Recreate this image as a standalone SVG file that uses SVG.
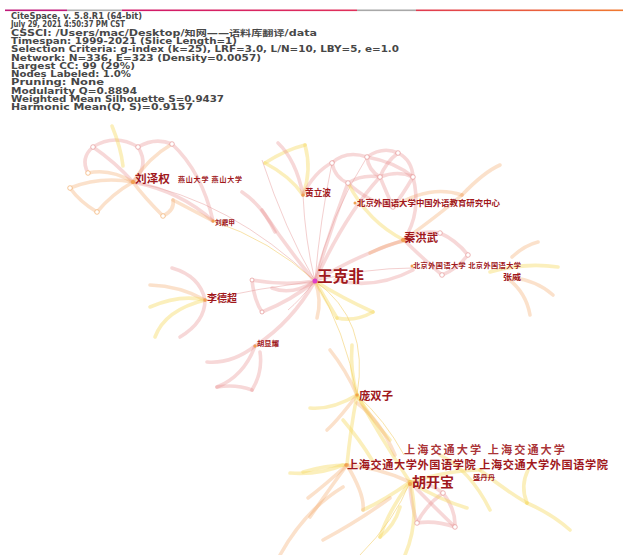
<svg xmlns="http://www.w3.org/2000/svg" width="623" height="555" viewBox="0 0 623 555">
<defs>
<linearGradient id="bar" x1="0" x2="1" y1="0" y2="0">
<stop offset="0" stop-color="#c01a7a"/>
<stop offset="0.1" stop-color="#c01a7a"/>
<stop offset="0.1" stop-color="#b0b0b0"/>
<stop offset="0.19" stop-color="#b0b0b0"/>
<stop offset="0.19" stop-color="#d0186a"/>
<stop offset="0.57" stop-color="#e0305a"/>
<stop offset="0.57" stop-color="#a8a8a8"/>
<stop offset="0.665" stop-color="#a8a8a8"/>
<stop offset="0.665" stop-color="#e03a50"/>
<stop offset="1" stop-color="#f07a30"/>
</linearGradient>
</defs>
<style>
.hd{font-family:"DejaVu Sans","Noto Sans CJK SC",sans-serif;font-size:8px;font-weight:bold;fill:#474747}
.lb{font-family:"Noto Sans CJK SC","Noto Sans CJK JP",sans-serif;font-weight:bold;fill:#a0181c}
.p{fill:none;stroke:#e89090;stroke-opacity:.35;stroke-width:3.6;stroke-linecap:round}
.o{fill:none;stroke:#f4aa6a;stroke-opacity:.35;stroke-width:3.6;stroke-linecap:round}
.y{fill:none;stroke:#f6d860;stroke-opacity:.42;stroke-width:3.6;stroke-linecap:round}
.pt{fill:none;stroke:#e8a0a0;stroke-opacity:.5;stroke-width:1}
.yt{fill:none;stroke:#f3d070;stroke-opacity:.6;stroke-width:1}
.c{fill:#fff;stroke:#e69a9a;stroke-opacity:.7;stroke-width:1}
.co{fill:#fff;stroke:#f2b070;stroke-opacity:.7;stroke-width:1}
.dot{fill:#f0a050}
</style>
<rect width="623" height="555" fill="#fff"/>
<rect x="5" y="9.5" width="618" height="1.6" fill="url(#bar)"/>
<g id="header">
<text class="hd" x="11" y="19" textLength="131" lengthAdjust="spacingAndGlyphs">CiteSpace, v. 5.8.R1 (64-bit)</text>
<text class="hd" x="11" y="27.3" textLength="114" lengthAdjust="spacingAndGlyphs">July 29, 2021 4:50:37 PM CST</text>
<text class="hd" x="11" y="35.6" textLength="306" lengthAdjust="spacingAndGlyphs">CSSCI: /Users/mac/Desktop/知网——语料库翻译/data</text>
<text class="hd" x="11" y="43.9" textLength="226" lengthAdjust="spacingAndGlyphs">Timespan: 1999-2021 (Slice Length=1)</text>
<text class="hd" x="11" y="52.2" textLength="388" lengthAdjust="spacingAndGlyphs">Selection Criteria: g-index (k=25), LRF=3.0, L/N=10, LBY=5, e=1.0</text>
<text class="hd" x="11" y="60.5" textLength="250" lengthAdjust="spacingAndGlyphs">Network: N=336, E=323 (Density=0.0057)</text>
<text class="hd" x="11" y="68.8" textLength="124" lengthAdjust="spacingAndGlyphs">Largest CC: 99 (29%)</text>
<text class="hd" x="11" y="77.1" textLength="120" lengthAdjust="spacingAndGlyphs">Nodes Labeled: 1.0%</text>
<text class="hd" x="11" y="85.4" textLength="93" lengthAdjust="spacingAndGlyphs">Pruning: None</text>
<text class="hd" x="11" y="93.7" textLength="126" lengthAdjust="spacingAndGlyphs">Modularity Q=0.8894</text>
<text class="hd" x="11" y="102" textLength="213" lengthAdjust="spacingAndGlyphs">Weighted Mean Silhouette S=0.9437</text>
<text class="hd" x="11" y="110.3" textLength="182" lengthAdjust="spacingAndGlyphs">Harmonic Mean(Q, S)=0.9157</text>
</g>
<g id="connectors">
<path class="p" d="M93,147 Q115,162 133,182"/>
<path class="p" d="M93,147 Q115,133 138,147"/>
<path class="p" d="M138,147 Q150,166 133,182"/>
<path class="p" d="M138,147 Q155,137 172,144"/>
<path class="o" d="M172,144 Q148,158 133,182"/>
<path class="o" d="M88,173 Q110,168 133,182"/>
<path class="o" d="M70,188 Q100,176 133,182"/>
<path class="o" d="M70,188 Q80,202 97,212"/>
<path class="o" d="M97,212 Q112,194 133,182"/>
<path class="o" d="M163,216 Q143,196 133,182"/>
<path class="o" d="M163,216 Q175,210 173,200"/>
<path class="p" d="M133,182 Q182,192 213,221"/>
<path class="o" d="M173,200 Q196,212 213,221"/>
<path class="p" d="M172,144 Q202,172 213,221"/>
<path class="y" d="M112,126 Q121,148 123,166"/>
<path class="p" d="M88,173 Q80,158 93,147"/>
<path class="pt" d="M133,182 Q230,200 315,281"/>
<path class="yt" d="M213,221 Q270,240 315,281"/>
<path class="p" d="M242,192 Q262,205 275,232"/>
<path class="y" d="M265,163 Q285,150 305,145"/>
<path class="y" d="M305,145 Q312,170 303,195"/>
<path class="y" d="M265,163 Q290,176 303,195"/>
<path class="p" d="M278,143 Q296,160 303,195"/>
<path class="p" d="M333,162 Q314,172 303,195"/>
<path class="pt" d="M303,195 Q305,240 315,281"/>
<path class="pt" d="M262,160 Q285,230 315,281"/>
<path class="p" d="M262,210 Q285,245 312,278"/>
<path class="p" d="M367,157 Q383,146 398,153"/>
<path class="p" d="M398,153 Q412,160 413,177"/>
<path class="p" d="M367,157 Q368,170 380,177"/>
<path class="p" d="M380,177 Q398,170 413,177"/>
<path class="p" d="M367,157 Q395,162 413,177"/>
<path class="p" d="M398,153 Q386,162 380,177"/>
<path class="p" d="M380,177 Q388,196 393,207"/>
<path class="p" d="M413,177 Q402,196 393,207"/>
<path class="p" d="M332,163 Q346,150 367,157"/>
<path class="p" d="M332,163 Q335,178 348,183"/>
<path class="p" d="M348,183 Q362,174 380,177"/>
<path class="p" d="M348,183 Q368,202 393,207"/>
<path class="p" d="M315,281 Q330,230 348,183"/>
<path class="p" d="M315,281 Q345,215 380,177"/>
<path class="pt" d="M315,281 Q330,215 367,157"/>
<path class="pt" d="M315,281 Q320,220 332,163"/>
<path class="o" d="M393,207 Q430,184 462,195"/>
<path class="o" d="M462,195 Q484,172 500,165"/>
<path class="o" d="M462,195 Q440,214 404,240"/>
<path class="y" d="M348,183 Q368,222 404,240"/>
<path class="p" d="M413,177 Q422,212 404,240"/>
<path class="p" d="M404,240 Q421,229 440,233"/>
<path class="p" d="M440,233 Q456,240 468,255"/>
<path class="p" d="M468,255 Q456,270 442,275"/>
<path class="p" d="M442,275 Q420,256 404,240"/>
<path class="p" d="M404,240 Q360,254 315,281"/>
<path class="p" d="M335,280 Q375,290 413,270"/>
<path class="o" d="M370,253 Q388,244 404,241"/>
<path class="pt" d="M315,281 Q365,268 413,268"/>
<path class="o" d="M512,257 Q525,245 538,242"/>
<path class="y" d="M490,272 Q525,262 558,267"/>
<path class="o" d="M507,278 Q526,292 530,315"/>
<path class="o" d="M513,278 Q536,280 553,295"/>
<path class="y" d="M315,281 Q342,298 373,312"/>
<path class="y" d="M373,312 Q355,322 337,318"/>
<path class="y" d="M315,281 Q326,300 337,318"/>
<path class="p" d="M315,281 Q285,286 252,280"/>
<path class="p" d="M252,280 Q254,300 262,312"/>
<path class="p" d="M262,312 Q292,300 315,281"/>
<path class="p" d="M272,288 Q292,296 315,281"/>
<path class="pt" d="M315,281 Q300,300 288,310"/>
<path class="pt" d="M315,281 Q260,288 205,300"/>
<path class="o" d="M315,281 Q322,300 317,318"/>
<path class="o" d="M150,285 Q180,286 205,300"/>
<path class="y" d="M150,307 Q180,294 205,300"/>
<path class="y" d="M155,337 Q165,310 205,300"/>
<path class="p" d="M172,268 Q200,276 205,300"/>
<path class="p" d="M180,337 Q205,322 205,300"/>
<path class="p" d="M315,281 Q292,322 255,346"/>
<path class="p" d="M255,346 Q232,364 207,362"/>
<path class="p" d="M255,346 Q244,376 217,387"/>
<path class="p" d="M260,352 Q263,372 252,390"/>
<path class="p" d="M217,387 Q236,384 252,390"/>
<path class="yt" d="M315,281 Q345,330 357,395"/>
<path class="yt" d="M315,281 Q370,320 357,395"/>
<path class="o" d="M330,350 Q346,370 357,395"/>
<path class="y" d="M352,345 Q350,370 357,395"/>
<path class="y" d="M357,395 Q332,410 310,408"/>
<path class="o" d="M357,395 Q338,420 327,430"/>
<path class="y" d="M357,395 Q372,420 390,440"/>
<path class="y" d="M357,395 Q382,440 410,482"/>
<path class="y" d="M357,395 Q350,432 347,465"/>
<path class="yt" d="M357,395 Q385,420 404,455"/>
<path class="y" d="M343,420 Q360,440 372,460"/>
<path class="o" d="M357,403 Q380,420 395,455"/>
<path class="p" d="M410,482 Q426,480 443,493"/>
<path class="p" d="M443,493 Q456,510 455,527"/>
<path class="p" d="M455,527 Q435,520 417,523"/>
<path class="p" d="M417,523 Q410,500 410,482"/>
<path class="p" d="M410,482 Q432,505 455,527"/>
<path class="p" d="M443,493 Q426,505 417,523"/>
<path class="y" d="M410,482 Q388,512 380,537"/>
<path class="y" d="M410,482 Q385,500 363,510"/>
<path class="y" d="M410,482 Q440,500 467,508"/>
<path class="y" d="M410,482 Q420,520 405,555"/>
<path class="yt" d="M410,482 Q395,520 360,555"/>
<path class="o" d="M347,465 Q380,468 410,482"/>
<path class="y" d="M303,472 Q326,465 347,465"/>
<path class="o" d="M310,517 Q330,488 347,465"/>
<path class="o" d="M347,465 Q325,485 308,498"/>
<path class="o" d="M280,555 Q305,510 343,487"/>
<path class="y" d="M290,473 Q320,475 343,465"/>
<path class="o" d="M323,540 Q360,520 390,498"/>
<path class="y" d="M380,537 Q395,525 400,507"/>
<path class="y" d="M480,470 Q505,490 527,503"/>
<path class="y" d="M527,503 Q520,486 528,470"/>
<path class="y" d="M527,503 Q552,514 570,530"/>
<path class="y" d="M410,482 Q450,470 480,470"/>
<path class="o" d="M347,465 Q365,495 363,510"/>
<path class="y" d="M440,455 Q470,470 490,510"/>
</g>
<g id="circles">
<circle class="c" cx="93" cy="147" r="2.3"/>
<circle class="c" cx="138" cy="147" r="2.3"/>
<circle class="c" cx="172" cy="144" r="2.3"/>
<circle class="co" cx="88" cy="173" r="2.3"/>
<circle class="co" cx="70" cy="188" r="2.3"/>
<circle class="co" cx="97" cy="212" r="2.3"/>
<circle class="co" cx="163" cy="216" r="2.3"/>
<circle class="c" cx="367" cy="157" r="2.3"/>
<circle class="c" cx="398" cy="153" r="2.3"/>
<circle class="c" cx="413" cy="177" r="2.3"/>
<circle class="c" cx="380" cy="177" r="2.3"/>
<circle class="c" cx="393" cy="207" r="2.3"/>
<circle class="c" cx="332" cy="163" r="2.3"/>
<circle class="c" cx="348" cy="183" r="2.3"/>
<circle class="c" cx="440" cy="233" r="2.3"/>
<circle class="c" cx="468" cy="255" r="2.3"/>
<circle class="c" cx="442" cy="275" r="2.3"/>
<circle class="c" cx="443" cy="493" r="2.3"/>
<circle class="c" cx="455" cy="527" r="2.3"/>
<circle class="c" cx="417" cy="523" r="2.3"/>
<circle class="c" cx="262" cy="312" r="2"/>
<circle class="c" cx="252" cy="280" r="2"/>
</g>
<g id="n-liuzequan"><circle class="dot" cx="133" cy="182" r="2"/><text class="lb" x="135" y="183" font-size="11" textLength="35" lengthAdjust="spacingAndGlyphs">刘泽权</text></g>
<g id="n-yanshan"><text class="lb" x="178" y="181.5" font-size="7" textLength="64" lengthAdjust="spacing">燕山大学 燕山大学</text></g>
<g id="n-liudingjia"><circle class="dot" cx="213" cy="221" r="1.5"/><text class="lb" x="215" y="224.5" font-size="7" textLength="20" lengthAdjust="spacingAndGlyphs">刘鼎甲</text></g>
<g id="n-huanglibo"><circle class="dot" cx="303" cy="195" r="1.5"/><text class="lb" x="305" y="196" font-size="8.7" textLength="26" lengthAdjust="spacingAndGlyphs">黄立波</text></g>
<g id="n-bfsu-center"><circle class="dot" cx="355" cy="203" r="1.5"/><text class="lb" x="357" y="206" font-size="8.3" textLength="143" lengthAdjust="spacingAndGlyphs">北京外国语大学中国外语教育研究中心</text></g>
<g id="n-qinhongwu"><circle class="dot" cx="403" cy="240" r="2"/><text class="lb" x="404" y="242" font-size="11.3" textLength="34" lengthAdjust="spacingAndGlyphs">秦洪武</text></g>
<g id="n-bfsu"><circle class="dot" cx="412" cy="266" r="1.5"/><text class="lb" x="413" y="268" font-size="7.2" textLength="108" lengthAdjust="spacing">北京外国语大学 北京外国语大学</text></g>
<g id="n-zhangwei"><text class="lb" x="503" y="280" font-size="8.2" textLength="18" lengthAdjust="spacingAndGlyphs">张威</text></g>
<g id="n-wangkefei"><circle cx="315" cy="281" r="2.5" fill="#e040c8"/><text class="lb" x="317" y="281.5" font-size="15.5" textLength="47" lengthAdjust="spacingAndGlyphs">王克非</text></g>
<g id="n-lidechao"><circle class="dot" cx="205" cy="300" r="1.5"/><text class="lb" x="207" y="301.5" font-size="10" textLength="30" lengthAdjust="spacingAndGlyphs">李德超</text></g>
<g id="n-huxianyao"><circle class="dot" cx="255" cy="346" r="1.5"/><text class="lb" x="257" y="345.6" font-size="7.3" textLength="22" lengthAdjust="spacingAndGlyphs">胡显耀</text></g>
<g id="n-pangshuangzi"><circle class="dot" cx="357" cy="395" r="1.5"/><text class="lb" x="359" y="400" font-size="11.3" textLength="34" lengthAdjust="spacingAndGlyphs">庞双子</text></g>
<g id="n-sjtu"><text class="lb" x="404" y="454" font-size="11.2" textLength="161" lengthAdjust="spacing" fill-opacity="0.9">上海交通大学 上海交通大学</text></g>
<g id="n-sjtu-sfl"><circle class="dot" cx="346" cy="465" r="1.8"/><text class="lb" x="347" y="468.5" font-size="11.2" textLength="261" lengthAdjust="spacing">上海交通大学外国语学院 上海交通大学外国语学院</text></g>
<g id="n-hukaibao"><circle class="dot" cx="410" cy="484" r="2"/><text class="lb" x="412" y="487" font-size="14" textLength="42" lengthAdjust="spacingAndGlyphs">胡开宝</text></g>
<g id="n-shengdandan"><text class="lb" x="473" y="480" font-size="7.3" textLength="22" lengthAdjust="spacingAndGlyphs">盛丹丹</text></g>
</svg>
